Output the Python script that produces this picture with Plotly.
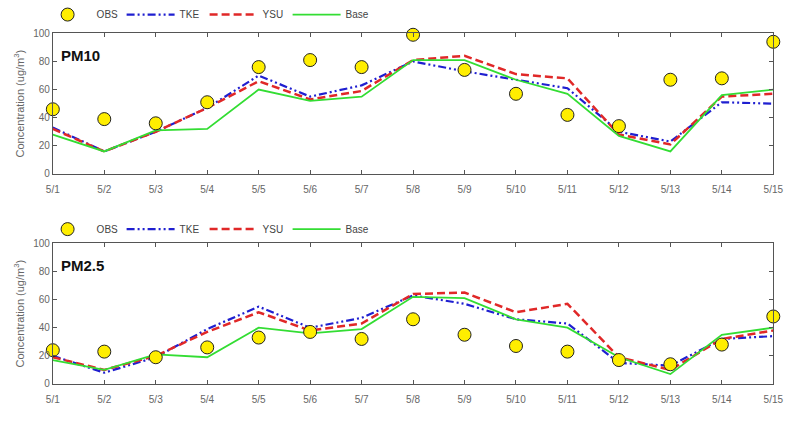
import plotly.graph_objects as go

days = ["5/1", "5/2", "5/3", "5/4", "5/5", "5/6", "5/7", "5/8",
        "5/9", "5/10", "5/11", "5/12", "5/13", "5/14", "5/15"]

pm10_obs = [46, 39, 36, 51, 76, 81, 76, 99, 74, 57, 42, 34, 67, 68, 94]
pm10_tke = [33, 16, 30, 47, 70, 55, 63, 80, 73, 67, 61, 30, 23, 51, 50]
pm10_ysu = [32, 16, 30, 47, 66, 53, 59, 81, 84, 71, 68, 28, 21, 55, 57]
pm10_base = [28, 16, 31, 32, 60, 52, 55, 81, 81, 67, 57, 27, 16, 56, 60]

pm25_obs = [24, 23, 19, 26, 33, 37, 32, 46, 35, 27, 23, 17, 14, 28, 48]
pm25_tke = [20, 8, 19, 39, 55, 40, 47, 63, 57, 46, 43, 15, 13, 32, 34]
pm25_ysu = [19, 10, 20, 37, 51, 38, 43, 64, 65, 51, 57, 19, 10, 32, 38]
pm25_base = [17, 10, 21, 19, 40, 36, 39, 62, 61, 46, 40, 19, 7, 35, 40]

panels = [("PM10", pm10_obs, pm10_tke, pm10_ysu, pm10_base),
          ("PM2.5", pm25_obs, pm25_tke, pm25_ysu, pm25_base)]

fig = go.Figure()
NARROW = "Liberation Sans Narrow, Arial Narrow, Liberation Sans, sans-serif"

for i, (name, obs, tke, ysu, base) in enumerate(panels):
    xa = "x" if i == 0 else "x2"
    ya = "y" if i == 0 else "y2"
    lg = "legend" if i == 0 else "legend2"
    fig.add_trace(go.Scatter(x=days, y=tke, mode="lines", name="TKE",
                             line=dict(color="#1f1fd0", width=2.2, dash="8px,3px,2px,3px,2px,3px"),
                             xaxis=xa, yaxis=ya, legend=lg, legendrank=2))
    fig.add_trace(go.Scatter(x=days, y=ysu, mode="lines", name="YSU",
                             line=dict(color="#e02828", width=2.5, dash="8px,4px"),
                             xaxis=xa, yaxis=ya, legend=lg, legendrank=3))
    fig.add_trace(go.Scatter(x=days, y=base, mode="lines", name="Base",
                             line=dict(color="#33dd33", width=1.8),
                             xaxis=xa, yaxis=ya, legend=lg, legendrank=4))
    fig.add_trace(go.Scatter(x=days, y=obs, mode="markers", name="OBS",
                             marker=dict(color="#ffee00", size=13, line=dict(color="#222", width=1)),
                             xaxis=xa, yaxis=ya, legend=lg, legendrank=1, cliponaxis=False))

axis_common = dict(showline=True, linecolor="#555", linewidth=1, mirror="ticks",
                   ticks="inside", ticklen=4, tickcolor="#555", showgrid=False,
                   zeroline=False, tickfont=dict(family=NARROW, size=10, color="#666"))

ytitle = dict(text="Concentration (ug/m<sup>3</sup>)", standoff=6,
              font=dict(family="Liberation Sans, Arial, sans-serif", size=11, color="#666"))

legend_common = dict(orientation="h", xanchor="left", yanchor="top",
                     itemwidth=48, entrywidth=20, entrywidthmode="pixels",
                     bgcolor="rgba(0,0,0,0)",
                     font=dict(family=NARROW, size=10, color="#444"), traceorder="normal")

fig.update_layout(
    width=807, height=421,
    margin=dict(l=0, r=0, t=0, b=0),
    paper_bgcolor="white", plot_bgcolor="white",
    showlegend=True,
    xaxis=dict(domain=[0.058, 0.970], anchor="y", type="category", range=[0, 14],
               ticklabelstandoff=6, **axis_common),
    yaxis=dict(domain=[0.589, 0.931], anchor="x", range=[0, 100], dtick=20,
               title=ytitle, **axis_common),
    xaxis2=dict(domain=[0.058, 0.970], anchor="y2", type="category", range=[0, 14],
                ticklabelstandoff=6, **axis_common),
    yaxis2=dict(domain=[0.078, 0.420], anchor="x2", range=[0, 100], dtick=20,
                title=ytitle, **axis_common),
    legend=dict(x=0.04, y=1.012, **legend_common),
    legend2=dict(x=0.04, y=0.49, **legend_common),
    annotations=[
        dict(text="<b>PM10</b>", xref="paper", yref="paper", x=0.066, y=0.876,
             xanchor="left", yanchor="middle", showarrow=False,
             font=dict(family=NARROW, size=15, color="#111")),
        dict(text="<b>PM2.5</b>", xref="paper", yref="paper", x=0.066, y=0.366,
             xanchor="left", yanchor="middle", showarrow=False,
             font=dict(family=NARROW, size=15, color="#111")),
    ],
)

fig.write_html("out.html")
